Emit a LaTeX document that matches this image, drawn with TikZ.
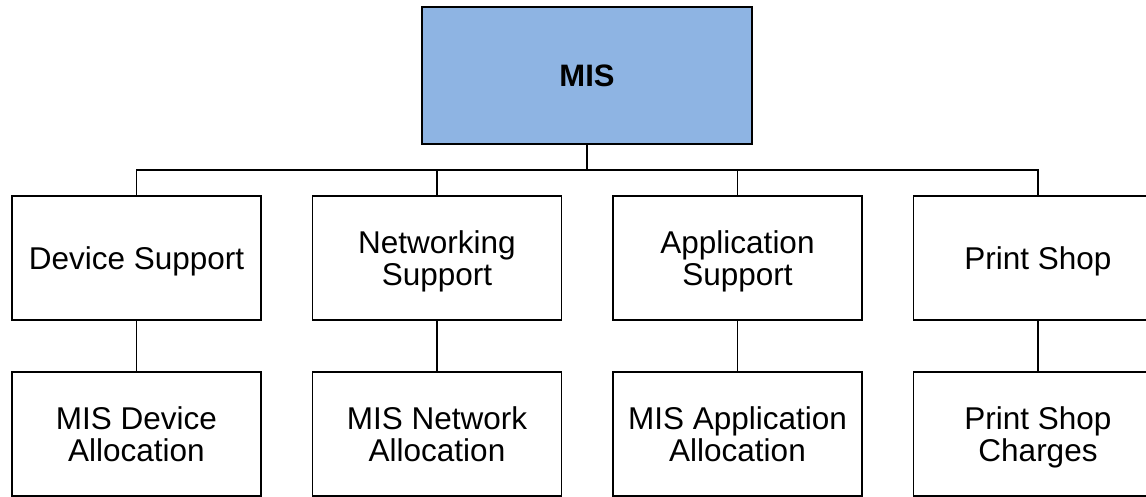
\documentclass[tikz,border=0pt]{standalone}
\usepackage{fontspec}
\setmainfont{Liberation Sans}
\definecolor{misblue}{HTML}{8EB4E3}
\begin{document}
\begin{tikzpicture}[x=1pt,y=-1pt,
  unit/.style={draw=black, line width=1.7pt, fill=white, rectangle,
    minimum width=249pt, minimum height=124pt, inner sep=0pt,
    text depth=0pt, align=center, font=\fontsize{31.5pt}{32.5pt}\selectfont},
  head/.style={unit, fill=misblue, minimum width=330pt, minimum height=137pt,
    font=\fontsize{31pt}{33pt}\selectfont\bfseries},
  link/.style={line width=1.7pt, draw=black}]
\clip (0,0) rectangle (1146,497);
\fill[white] (0,0) rectangle (1146,497);

% top of the chart
\node[head] (mis) at (587,75.5) {MIS};

% departments
\node[unit] (dev) at (136.5,258) {Device Support};
\node[unit] (net) at (437,258) {Networking\\Support};
\node[unit] (app) at (737.5,258) {Application\\Support};
\node[unit] (prt) at (1038,258) {Print Shop};

% allocations
\node[unit] (devA) at (136.5,434) {MIS Device\\Allocation};
\node[unit] (netA) at (437,434) {MIS Network\\Allocation};
\node[unit] (appA) at (737.5,434) {MIS Application\\Allocation};
\node[unit] (prtA) at (1038,434) {Print Shop\\Charges};

% connectors
\coordinate (bus) at (587,170);
\draw[link] (mis.south) -- (bus);
\foreach \c in {dev,net,app,prt}{
  \draw[link] (bus) -| (\c.north);
  \draw[link] (\c.south) -- (\c A.north);
}
\end{tikzpicture}
\end{document}
